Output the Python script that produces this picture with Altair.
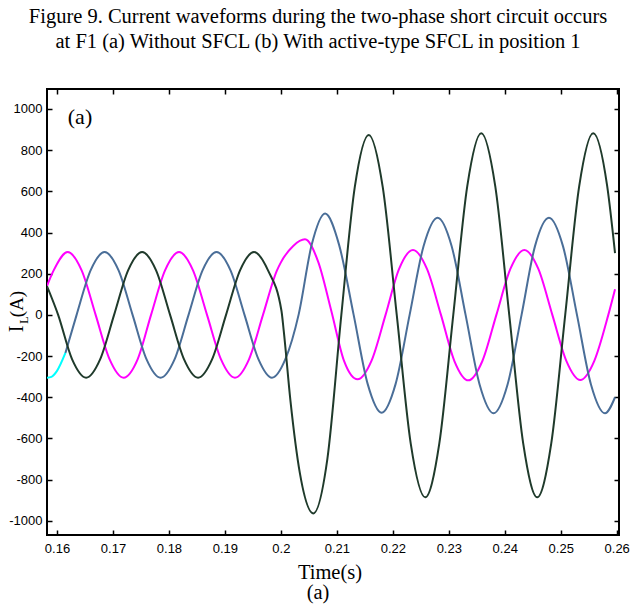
import altair as alt
import pandas as pd

# ---- data ----
magenta_t = [0.1582, 0.1594, 0.1619, 0.1644, 0.1669, 0.1694, 0.1719, 0.1744, 0.1768, 0.1793,
             0.1818, 0.1843, 0.1868, 0.1893, 0.1918, 0.1943, 0.1968, 0.1993, 0.2000, 0.2022,
             0.2043, 0.2067, 0.2090, 0.2113, 0.2137, 0.2162, 0.2187, 0.2211, 0.2236, 0.2261,
             0.2286, 0.2310, 0.2335, 0.2360, 0.2385, 0.2410, 0.2435, 0.2460, 0.2485, 0.2510,
             0.2535, 0.2560, 0.2585, 0.2597]
magenta_v = [140, 216, 305, 216, 0, -216, -305, -216, 0, 216,
             305, 216, 0, -216, -305, -216, 0, 216, 255, 335,
             367, 255, 20, -225, -313, -222, 0, 222, 315, 223,
             0, -224, -318, -224, 0, 223, 315, 223, 0, -223,
             -316, -223, 0, 124]

blue_t = [0.1615, 0.1635, 0.1660, 0.1685, 0.1710, 0.1735, 0.1760, 0.1785, 0.1810, 0.1835,
          0.1860, 0.1885, 0.1910, 0.1935, 0.1960, 0.1984, 0.2008, 0.2032, 0.2055, 0.2079,
          0.2104, 0.2130, 0.2155, 0.2180, 0.2205, 0.2230, 0.2255, 0.2280, 0.2305, 0.2330,
          0.2355, 0.2380, 0.2405, 0.2430, 0.2454, 0.2479, 0.2504, 0.2529, 0.2554, 0.2579,
          0.2597]
blue_v = [-185, 0, 216, 305, 216, 0, -216, -305, -216, 0,
          216, 305, 216, 0, -216, -305, -215, 5, 340, 492,
          340, 0, -335, -475, -335, 0, 335, 472, 335, 0,
          -338, -478, -338, 0, 334, 472, 334, 0, -338, -478,
          -400]

cyan_t = [0.1582, 0.1590, 0.1600, 0.1615]
cyan_v = [-305, -301, -272, -185]

green_t = [0.1582, 0.1602, 0.1627, 0.1652, 0.1677, 0.1702, 0.1727, 0.1752, 0.1777, 0.1802,
           0.1827, 0.1852, 0.1877, 0.1902, 0.1927, 0.1952, 0.1977, 0.2001, 0.2005, 0.2017,
           0.2034, 0.2058, 0.2083, 0.2108, 0.2132, 0.2157, 0.2182, 0.2207, 0.2232, 0.2258,
           0.2283, 0.2308, 0.2333, 0.2358, 0.2383, 0.2408, 0.2433, 0.2458, 0.2483, 0.2508,
           0.2533, 0.2558, 0.2583, 0.2597]
green_v = [140, 0, -216, -305, -216, 0, 216, 305, 216, 0,
           -216, -305, -216, 0, 216, 305, 216, 20, -75, -415,
           -770, -964, -700, 0, 620, 874, 620, 0, -625, -886,
           -625, 0, 625, 882, 625, 0, -625, -886, -625, 0,
           625, 882, 625, 300]

x_ticks = [0.16, 0.17, 0.18, 0.19, 0.2, 0.21, 0.22, 0.23, 0.24, 0.25, 0.26]
y_ticks = [-1000, -800, -600, -400, -200, 0, 200, 400, 600, 800, 1000]

caption_1 = "Figure 9. Current waveforms during the two-phase short circuit occurs"
caption_2 = "at F1 (a) Without SFCL (b) With active-type SFCL in position 1"

# ---- chart ----
xscale = alt.Scale(domain=[0.15821, 0.26041], nice=False, zero=False)
yscale = alt.Scale(domain=[-1069, 1097], nice=False, zero=False)

common = dict(grid=False, domain=False, ticks=True, tickSize=5, offset=-5,
              tickColor="black", tickWidth=1.5, title=None)

bottom_axis = alt.Axis(orient="bottom", values=x_ticks, format=".2~f",
                       labelFont="Liberation Sans", labelFontSize=13, labelColor="black",
                       labelPadding=7, labelFlush=False, labelOverlap=False, **common)
left_axis = alt.Axis(orient="left", values=y_ticks, labelExpr="'' + datum.value",
                     labelFont="Liberation Sans", labelFontSize=13, labelColor="black",
                     labelPadding=5, labelOverlap=False, **common)
top_axis = alt.Axis(orient="top", values=x_ticks, labels=False, **common)
right_axis = alt.Axis(orient="right", values=y_ticks, labels=False, **common)


def df(t, v):
    return pd.DataFrame({"t": t, "v": v})


def series(t, v, color, first=False):
    return alt.Chart(df(t, v)).mark_line(
        interpolate="monotone", strokeWidth=2, color=color, clip=True
    ).encode(
        x=alt.X("t:Q", scale=xscale, axis=bottom_axis if first else None),
        y=alt.Y("v:Q", scale=yscale, axis=left_axis if first else None),
        order="t:Q",
    )


frame_axes = alt.Chart(df(green_t, green_v)).mark_line(strokeOpacity=0).encode(
    x=alt.X("t:Q", scale=xscale, axis=top_axis),
    y=alt.Y("v:Q", scale=yscale, axis=right_axis),
)

one = pd.DataFrame({"k": [0]})


def label(text, x, y, size, angle=0, font="Liberation Serif"):
    return alt.Chart(one).mark_text(
        text=text, font=font, fontSize=size, color="black", align="center",
        baseline="middle", angle=angle
    ).encode(x=alt.value(x), y=alt.value(y))


layers = [
    series(magenta_t, magenta_v, "#FF00FF", first=True),
    series(blue_t, blue_v, "#4A6E98"),
    series(green_t, green_v, "#1F3A2B"),
    series(cyan_t, cyan_v, "#00FFFF"),
    frame_axes,
    label(caption_1, 271, -72, 20.5),
    label(caption_2, 271, -47, 20.5),
    label("(a)", 33, 28, 22),
    label("Time(s)", 283, 484, 20.5),
    label("(a)", 271, 504, 20.5),
    label("(A)", -30, 215, 19, angle=270),
    label("I", -30, 240, 20, angle=270),
    label("L", -23, 231, 12, angle=270),
]

chart = alt.layer(*layers).resolve_axis(
    x="independent", y="independent"
).properties(
    width=572, height=446,
    padding={"left": 47, "top": 89, "right": 17, "bottom": 72},
    autosize=alt.AutoSizeParams(type="none"),
    background="white",
).configure_view(stroke="black", strokeWidth=2)

chart.save("out.html", embed_options={"renderer": "svg", "actions": False})
